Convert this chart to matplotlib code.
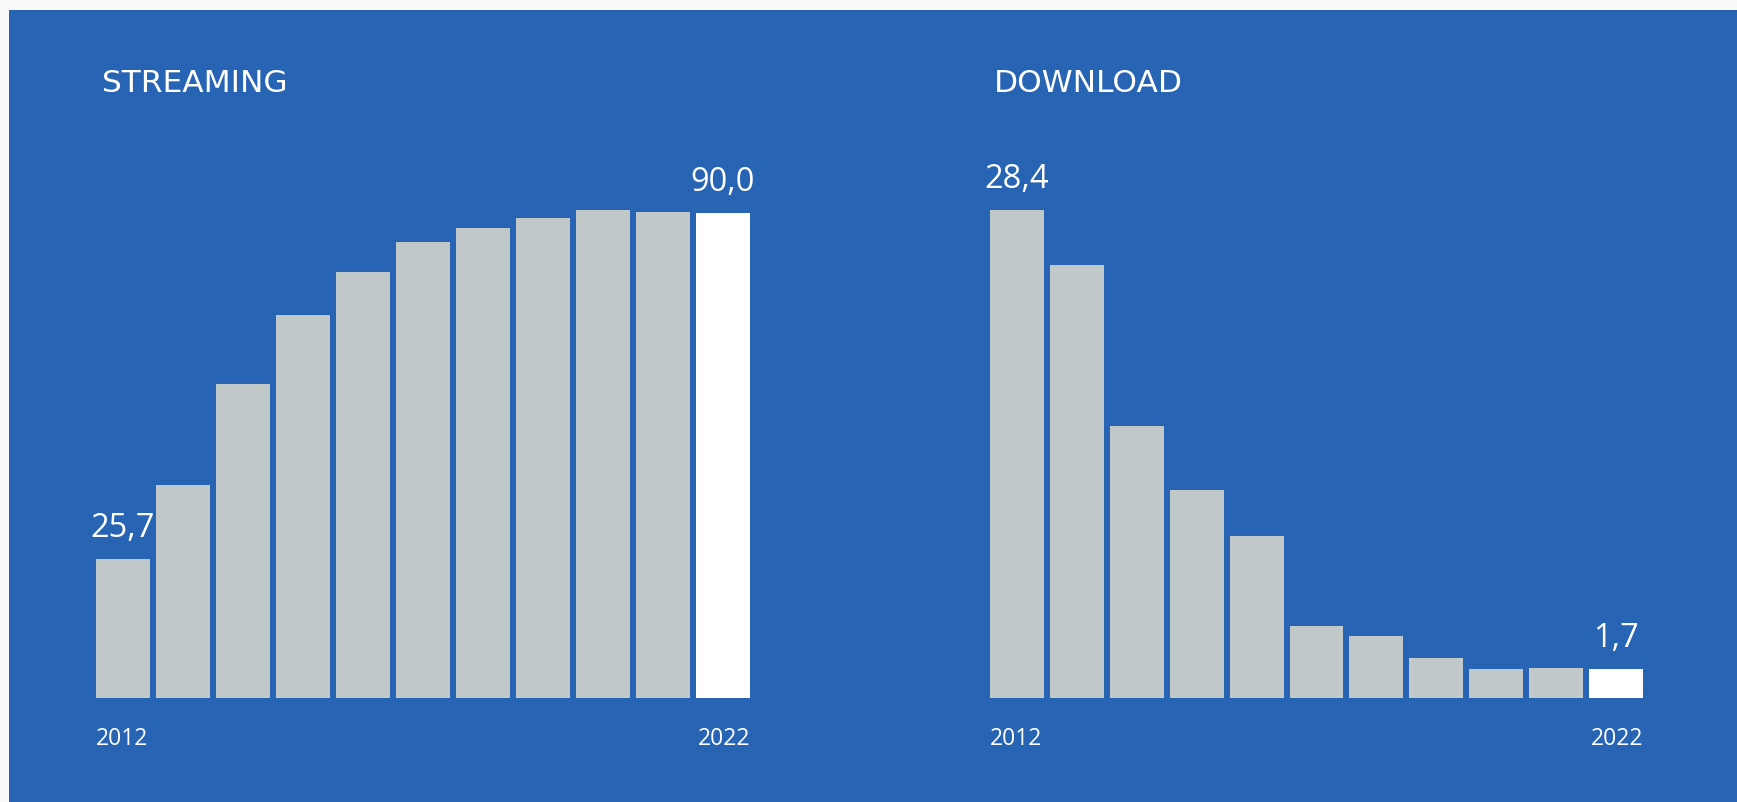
import matplotlib
matplotlib.use("Agg")
import matplotlib.pyplot as plt
from matplotlib.patches import Rectangle

# ---- data ----
years = list(range(2012, 2023))
streaming = [25.7, 39.5, 58.2, 71.0, 79.0, 84.5, 87.2, 89.0, 90.5, 90.1, 90.0]
download = [28.4, 25.2, 15.8, 12.1, 9.4, 4.2, 3.6, 2.3, 1.68, 1.74, 1.7]
titles = ["STREAMING", "DOWNLOAD"]
first_label, last_label = str(years[0]), str(years[-1])

W, H = 1737, 803
BG = "#2864B4"
GREY = "#C0C8CA"
WHITE = "#FFFFFF"
FONT = "Open Sans"
TFONT = "DejaVu Sans"

fig = plt.figure(figsize=(W / 100, H / 100), dpi=100, facecolor="#FAFAFA")
fig.patches.append(Rectangle((9 / W, 0), 1 - 9 / W, 1 - 11 / H,
                             transform=fig.transFigure, facecolor=BG,
                             edgecolor="none", zorder=-5))

def px(x, y):
    return x / W, 1 - y / H

panels = [
    (streaming, titles[0], 96, 750, 102),
    (download, titles[1], 990, 1643, 994),
]
base_y, top_y = 698.7, 211.0

for vals, title, x0, x1, tx in panels:
    l, b = px(x0, base_y)
    r, t = px(x1, top_y)
    ax = fig.add_axes([l, b, r - l, t - b])
    ax.set_facecolor("none")
    n = len(vals)
    xs = list(range(n))
    colors = [GREY] * (n - 1) + [WHITE]
    ax.bar(xs, vals, width=0.9, color=colors, edgecolor="none")
    ax.set_xlim(-0.45, n - 1 + 0.45)
    ax.set_ylim(0, max(vals))
    for s in ax.spines.values():
        s.set_visible(False)
    ax.set_xticks([])
    ax.set_yticks([])
    for i in (0, n - 1):
        ax.annotate(f"{vals[i]:.1f}".replace(".", ","), (xs[i], vals[i]),
                    xytext=(0, 16.5), textcoords="offset points",
                    ha="center", va="baseline", color="white",
                    fontsize=23.5, family=FONT, annotation_clip=False)
    ax.annotate(first_label, (xs[0] - 0.45, 0), xytext=(0, -33),
                textcoords="offset points", ha="left", va="baseline",
                color="white", fontsize=16.5, family=FONT, annotation_clip=False)
    ax.annotate(last_label, (xs[-1] + 0.45, 0), xytext=(0, -33),
                textcoords="offset points", ha="right", va="baseline",
                color="white", fontsize=16.5, family=FONT, annotation_clip=False)
    fx, fy = px(tx, 92.3)
    fig.text(fx, fy, title, ha="left", va="baseline", color="white",
             fontsize=22.5, family=TFONT)

fig.savefig("out.png", dpi=100, facecolor=fig.get_facecolor())
